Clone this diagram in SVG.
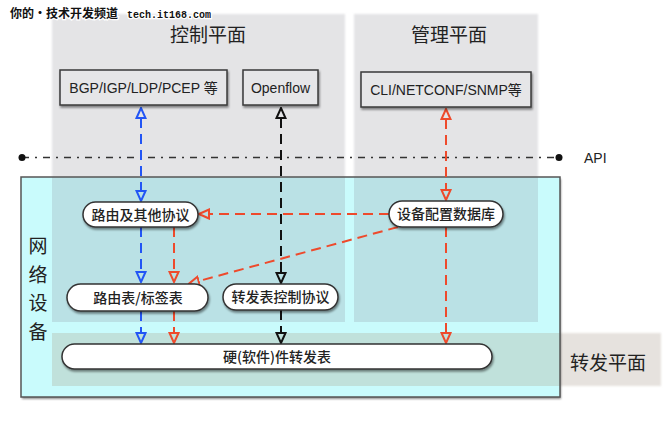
<svg xmlns="http://www.w3.org/2000/svg" width="670" height="424" viewBox="0 0 670 424">
<defs>
<style>
.plane{fill:#e4e4e6;filter:url(#soft)}
.title{font-family:"Noto Sans CJK SC","Liberation Sans",sans-serif;font-size:19px;fill:#222;text-anchor:middle}
.box{fill:#e6e6e8;stroke:#3a3a3a;stroke-width:1.5;filter:url(#sh)}
.btxt{font-family:"Liberation Sans","Noto Sans CJK SC",sans-serif;font-size:14px;fill:#222;text-anchor:middle}
.node{fill:#fff;stroke:#333;stroke-width:1.5;filter:url(#sh)}
.ntxt{font-family:"Noto Sans CJK SC","Liberation Sans",sans-serif;font-size:14px;fill:#222;text-anchor:middle;font-weight:500}
.c{fill:none;stroke-width:2;stroke-dasharray:10 6}
.blue{stroke:#2255f5}
.red{stroke:#ee4a2c}
.black{stroke:#111}
</style>
<filter id="sh" x="-10%" y="-30%" width="120%" height="170%">
<feDropShadow dx="1" dy="2" stdDeviation="1.2" flood-color="#000" flood-opacity="0.45"/>
</filter>
<filter id="soft" x="-5%" y="-5%" width="110%" height="110%">
<feGaussianBlur stdDeviation="1.2"/>
</filter>
<marker id="mb" viewBox="0 0 12 12" refX="1" refY="6" markerWidth="12" markerHeight="12" markerUnits="userSpaceOnUse" orient="auto-start-reverse">
<path d="M1,1.5 L11,6 L1,10.5 Z" fill="none" stroke="#2255f5" stroke-width="2"/>
</marker>
<marker id="mr" viewBox="0 0 12 12" refX="1" refY="6" markerWidth="12" markerHeight="12" markerUnits="userSpaceOnUse" orient="auto-start-reverse">
<path d="M1,1.5 L11,6 L1,10.5 Z" fill="none" stroke="#ee4a2c" stroke-width="2"/>
</marker>
<marker id="mk" viewBox="0 0 12 12" refX="1" refY="6" markerWidth="12" markerHeight="12" markerUnits="userSpaceOnUse" orient="auto-start-reverse">
<path d="M1,1.5 L11,6 L1,10.5 Z" fill="none" stroke="#111" stroke-width="2"/>
</marker>
</defs>
<rect width="670" height="424" fill="#fff"/>

<g id="planes">
<rect class="plane" x="52" y="14" width="293" height="308"/>
<rect class="plane" x="354" y="14" width="184" height="308"/>
<rect x="52" y="333" width="609" height="53" fill="#e6e2de" filter="url(#soft)"/>
</g>

<g id="network-device">
<rect x="21" y="177" width="539" height="220" fill="#c9fbfc" filter="url(#sh)"/>
<rect x="52" y="177" width="293" height="145" fill="#bae1e5"/>
<rect x="354" y="177" width="184" height="145" fill="#bae1e5"/>
<rect x="52" y="333" width="508" height="53" fill="#c0e1db"/>
<rect x="21" y="177" width="539" height="220" fill="none" stroke="#555" stroke-width="1.5"/>
<g class="title">
<text x="38" y="253">网</text>
<text x="38" y="282">络</text>
<text x="38" y="310">设</text>
<text x="38" y="339">备</text>
</g>
</g>

<g id="titles">
<text class="title" x="208" y="42">控制平面</text>
<text class="title" x="449" y="42">管理平面</text>
<text class="title" x="608" y="370">转发平面</text>
</g>

<g id="watermark">
<text x="10" y="18" font-family="Noto Sans CJK SC,sans-serif" font-size="12" font-weight="bold" fill="#111" stroke="#fff" stroke-width="2.5" paint-order="stroke">你的·技术开发频道</text>
<text x="127" y="18" font-family="Liberation Mono,monospace" font-size="10" font-weight="bold" fill="#111" stroke="#fff" stroke-width="2.5" paint-order="stroke">tech.it168.com</text>
</g>

<g id="api">
<line x1="22" y1="157.5" x2="559" y2="157.5" stroke="#333" stroke-width="1.5" stroke-dasharray="7 6 2 6"/>
<circle cx="22" cy="157.5" r="3.5" fill="#111"/>
<circle cx="559" cy="157.5" r="3.5" fill="#111"/>
<text x="584" y="163" font-family="Liberation Sans,sans-serif" font-size="14" fill="#222">API</text>
</g>

<g id="connectors">
<path class="c blue" d="M141,118 V191" marker-start="url(#mb)" marker-end="url(#mb)"/>
<path class="c blue" d="M141,227 V272" marker-end="url(#mb)"/>
<path class="c blue" d="M141,311 V333" marker-end="url(#mb)"/>
<path class="c black" d="M281,118 V273" marker-start="url(#mk)" marker-end="url(#mk)"/>
<path class="c black" d="M281,310 V333" marker-end="url(#mk)"/>
<path class="c red" d="M446,119 V190" marker-start="url(#mr)" marker-end="url(#mr)"/>
<path class="c red" d="M446,227 V333" marker-end="url(#mr)"/>
<path class="c red" d="M389,214 H209" marker-end="url(#mr)"/>
<path class="c red" d="M174,227 V272" marker-end="url(#mr)"/>
<path class="c red" d="M174,311 V333" marker-end="url(#mr)"/>
<path class="c red" d="M398,227 L198.6,281.1" marker-end="url(#mr)"/>
</g>

<g id="bgp">
<rect class="box" x="60" y="70" width="167" height="35"/>
<text class="btxt" x="143.5" y="92.5">BGP/IGP/LDP/PCEP 等</text>
</g>
<g id="openflow">
<rect class="box" x="243" y="70" width="75" height="35"/>
<text class="btxt" x="280.5" y="92.5">Openflow</text>
</g>
<g id="cli">
<rect class="box" x="361" y="72" width="170" height="35"/>
<text class="btxt" x="446" y="94.5">CLI/NETCONF/SNMP等</text>
</g>

<g id="routing-protocols">
<rect class="node" x="83" y="202" width="115" height="25" rx="12.5"/>
<text class="ntxt" x="140.5" y="219.5">路由及其他协议</text>
</g>
<g id="config-db">
<rect class="node" x="389" y="201" width="114" height="26" rx="13"/>
<text class="ntxt" x="446" y="219">设备配置数据库</text>
</g>
<g id="rib">
<rect class="node" x="67" y="284" width="141" height="27" rx="13.5"/>
<text class="ntxt" x="138" y="302.5">路由表/标签表</text>
</g>
<g id="fib-control">
<rect class="node" x="223" y="284" width="115" height="26" rx="13"/>
<text class="ntxt" x="280.5" y="302">转发表控制协议</text>
</g>
<g id="fib">
<rect class="node" x="62" y="344" width="430" height="25" rx="12.5"/>
<text class="ntxt" x="277" y="361.5">硬(软件)件转发表</text>
</g>
</svg>
